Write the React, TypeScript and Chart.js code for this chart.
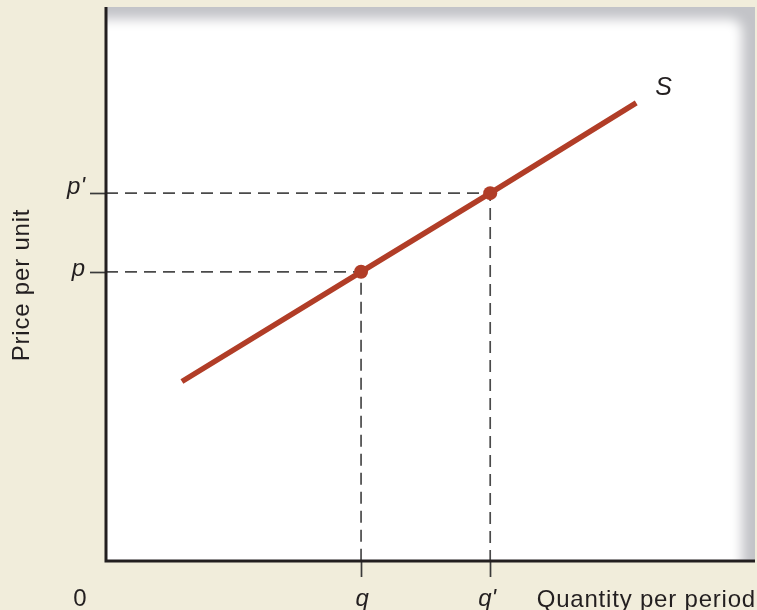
import React, { useEffect, useRef } from 'react';
import { Chart, registerables } from 'chart.js';
Chart.register(...registerables);

// ---- data ----
const axisMin = 0;
const axisMax = 10;
const supplyX = [1.17, 3.93, 5.92, 8.17];
const supplyY = [3.24, 5.22, 6.64, 8.27];
const quantityTicks = [3.93, 5.92];
const priceTicks = [5.22, 6.64];
const quantityLabels = ['q', "q'"];
const priceLabels = ['p', "p'"];
const curveLabel = 'S';
const xTitle = 'Quantity per period';
const yTitle = 'Price per unit';
const originLabel = '0';

const RED = '#b13d27';
const INK = '#231f20';
const CREAM = '#f1eddb';
const FONT = '"Liberation Sans", Arial, sans-serif';

const panelPlugin = {
  id: 'panelBg',
  beforeDraw(chart: any) {
    const { ctx, chartArea: a, width, height } = chart;
    ctx.save();
    ctx.fillStyle = CREAM;
    ctx.fillRect(0, 0, width, height);
    ctx.beginPath();
    ctx.rect(a.left, a.top, a.right - a.left, a.bottom - a.top);
    ctx.clip();
    ctx.fillStyle = '#c3c4c8';
    ctx.fillRect(a.left, a.top, a.right - a.left, a.bottom - a.top);
    ctx.filter = 'blur(6px)';
    ctx.fillStyle = '#ffffff';
    ctx.beginPath();
    (ctx as any).roundRect(a.left - 60, a.top + 12, a.right - 13 - (a.left - 60), a.bottom + 60 - (a.top + 12), 12);
    ctx.fill();
    ctx.restore();
  },
};

const axesPlugin = {
  id: 'axesLabels',
  afterDraw(chart: any) {
    const { ctx, chartArea: a } = chart;
    const xs = chart.scales.x;
    const ys = chart.scales.y;
    ctx.save();
    // tick marks
    ctx.strokeStyle = '#3a3a3a';
    ctx.lineWidth = 1.7;
    priceTicks.forEach((v) => {
      const py = Math.round(ys.getPixelForValue(v)) + 0.5;
      ctx.beginPath();
      ctx.moveTo(a.left - 16, py);
      ctx.lineTo(a.left, py);
      ctx.stroke();
    });
    quantityTicks.forEach((v) => {
      const px = Math.round(xs.getPixelForValue(v)) + 0.5;
      ctx.beginPath();
      ctx.moveTo(px, a.bottom);
      ctx.lineTo(px, a.bottom + 16);
      ctx.stroke();
    });
    // axes
    ctx.strokeStyle = INK;
    ctx.lineWidth = 3;
    ctx.beginPath();
    ctx.moveTo(a.left, a.top);
    ctx.lineTo(a.left, a.bottom);
    ctx.lineTo(a.right, a.bottom);
    ctx.stroke();

    // labels
    ctx.fillStyle = INK;
    ctx.font = `italic 24px ${FONT}`;
    ctx.textAlign = 'right';
    ctx.textBaseline = 'alphabetic';
    const pDy = [4, 1];
    priceTicks.forEach((v, i) => {
      ctx.fillText(priceLabels[i], a.left - 21, ys.getPixelForValue(v) + pDy[i]);
    });
    ctx.textAlign = 'center';
    const qDx = [1, -3];
    quantityTicks.forEach((v, i) => {
      ctx.fillText(quantityLabels[i], xs.getPixelForValue(v) + qDx[i], a.bottom + 45);
    });
    // S label
    ctx.font = `italic 25px ${FONT}`;
    ctx.textAlign = 'left';
    const lastX = supplyX[supplyX.length - 1];
    const lastY = supplyY[supplyY.length - 1];
    ctx.fillText(curveLabel, xs.getPixelForValue(lastX) + 19, ys.getPixelForValue(lastY) - 8);

    ctx.font = `24px ${FONT}`;
    ctx.textAlign = 'center';
    ctx.fillText(originLabel, xs.getPixelForValue(axisMin) - 26, a.bottom + 45);
    (ctx as any).letterSpacing = '0.8px';
    ctx.textAlign = 'right';
    ctx.fillText(xTitle, a.right + 1, a.bottom + 46);
    // y title
    ctx.translate(29, (a.top + a.bottom) / 2 + 1);
    ctx.rotate(-Math.PI / 2);
    ctx.textAlign = 'center';
    ctx.fillText(yTitle, 0, 0);
    ctx.restore();
  },
};

export default function App() {
  const ref = useRef<HTMLCanvasElement>(null);
  useEffect(() => {
    document.body.style.margin = '0';
    document.body.style.background = CREAM;
    const dashed = priceTicks.map((p, i) => ({
      type: 'line',
      data: [
        { x: axisMin, y: p },
        { x: quantityTicks[i], y: p },
        { x: quantityTicks[i], y: axisMin },
      ],
      borderColor: '#4a4a4a',
      borderWidth: 1.7,
      borderDash: [12, 7],
      pointRadius: 0,
      fill: false,
    }));
    const chart = new Chart(ref.current as HTMLCanvasElement, {
      type: 'line',
      data: {
        datasets: [
          {
            data: quantityTicks.map((q, i) => ({ x: q, y: priceTicks[i] })),
            showLine: false,
            pointRadius: 7,
            pointBackgroundColor: RED,
            pointBorderWidth: 0,
            borderColor: RED,
          },
          {
            data: supplyX.map((x, i) => ({ x, y: supplyY[i] })),
            borderColor: RED,
            borderWidth: 5.5,
            pointRadius: 0,
            borderCapStyle: 'butt',
            fill: false,
          },
          ...dashed,
        ] as any,
      },
      options: {
        responsive: false,
        animation: false,
        events: [],
        layout: { autoPadding: false, padding: { left: 106, top: 7, right: 2, bottom: 49 } },
        plugins: { legend: { display: false }, tooltip: { enabled: false } },
        scales: {
          x: { type: 'linear', min: axisMin, max: axisMax, display: false },
          y: { type: 'linear', min: axisMin, max: axisMax, display: false },
        },
      },
      plugins: [panelPlugin, axesPlugin],
    });
    return () => chart.destroy();
  }, []);
  return (
    <div style={{ width: 757, height: 610 }}>
      <canvas ref={ref} width={757} height={610} style={{ display: 'block' }} />
    </div>
  );
}
